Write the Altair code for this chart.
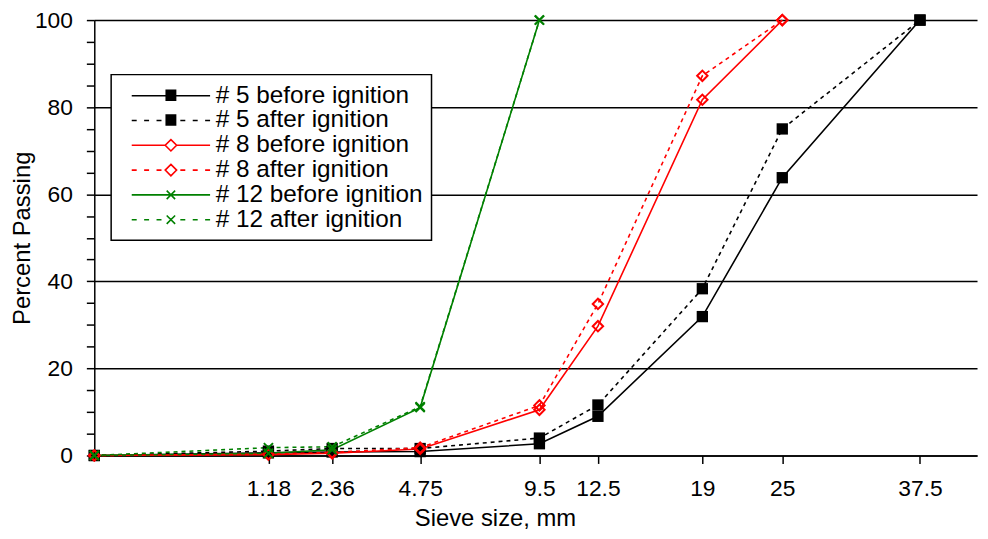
import altair as alt
import pandas as pd

# ---- data ----
series_names = ["# 5 before ignition", "# 5 after ignition",
                "# 8 before ignition", "# 8 after ignition",
                "# 12 before ignition", "# 12 after ignition"]

sizes_5 = [0, 1.18, 2.36, 4.75, 9.5, 12.5, 19, 25, 37.5]
p5_before = [0, 0.6, 0.8, 0.9, 2.7, 9.0, 31.9, 63.8, 100]
p5_after = [0, 1.0, 1.6, 1.6, 4.0, 11.6, 38.3, 75.0, 100]

sizes_8 = [0, 1.18, 2.36, 4.75, 9.5, 12.5, 19, 25]
p8_before = [0, 0.2, 0.5, 1.5, 10.5, 29.7, 81.7, 100]
p8_after = [0, 0.3, 0.7, 1.8, 11.5, 34.8, 87.2, 100]

sizes_12 = [0, 1.18, 2.36, 4.75, 9.5]
p12_before = [0, 0.5, 1.3, 11.0, 100]
p12_after = [0, 1.8, 2.0, 11.2, 100]

sieve_ticks = [1.18, 2.36, 4.75, 9.5, 12.5, 19, 25, 37.5]

rows = []
for name, group, state, xs, ys in [
    (series_names[0], "5", "before", sizes_5, p5_before),
    (series_names[1], "5", "after", sizes_5, p5_after),
    (series_names[2], "8", "before", sizes_8, p8_before),
    (series_names[3], "8", "after", sizes_8, p8_after),
    (series_names[4], "12", "before", sizes_12, p12_before),
    (series_names[5], "12", "after", sizes_12, p12_after),
]:
    for x, y in zip(xs, ys):
        rows.append({"size": x, "pct": y, "series": name, "group": group, "state": state})
df = pd.DataFrame(rows)

FONT = "Liberation Sans"
colors = ["black", "black", "#ff0000", "#ff0000", "#008000", "#008000"]


# legend symbols: line segment with marker in the middle (unit = 5px at size 100)
def seg(dashed, gap):
    if not dashed:
        return f"M-7.9,0H-{gap}M{gap},0H7.9"
    parts = []
    for a, b in [(-7.9, -6.9), (-5.4, -4.4), (-2.9, -1.9), (1.9, 2.9), (4.4, 5.4), (6.9, 7.9)]:
        parts.append(f"M{a},0H{b}")
    return "".join(parts)


def square():
    p = ""
    y = -1.1
    while y <= 1.11:
        p += f"M-1.1,{y:.2f}H1.1"
        y += 0.25
    return p


diamond = "M0,-1.15L1.15,0L0,1.15L-1.15,0Z"
xmark = "M-0.85,-0.85L0.85,0.85M-0.85,0.85L0.85,-0.85"
legend_shapes = [
    seg(False, 1.1) + square(),
    seg(True, 1.1) + square(),
    seg(False, 1.15) + diamond,
    seg(True, 1.15) + diamond,
    "M-7.9,0H7.9" + xmark,
    seg(True, 0) + xmark,
]

x_scale = alt.Scale(type="pow", exponent=0.45, domain=[0, 43.5], nice=False, zero=False)
y_scale = alt.Scale(domain=[0, 100], nice=False)

x_enc = alt.X("size:Q", scale=x_scale, axis=alt.Axis(
    values=sieve_ticks, labelExpr="'' + datum.value", grid=False,
    title="Sieve size, mm", titleX=404, titleY=64, titleBaseline="middle",
    tickSize=8, labelPadding=14))
y_enc = alt.Y("pct:Q", scale=y_scale, axis=alt.Axis(
    values=list(range(0, 101, 5)),
    labelExpr="datum.value % 20 == 0 ? datum.label : ''",
    grid=True, gridColor="black", gridWidth=1.5,
    gridOpacity={"condition": {"test": "datum.value % 20 === 0", "value": 1}, "value": 0},
    tickSize=8, labelPadding=14, title="Percent Passing", titlePadding=0))

stroke_scale = alt.Scale(domain=series_names, range=colors)
legend = alt.Legend(orient="none", legendX=17, legendY=55, title=None,
                    padding=9, fillColor="white", strokeColor="black",
                    symbolSize=100, symbolStrokeWidth=1.6,
                    symbolOffset=39, labelOffset=33, labelLimit=500,
                    labelFontSize=24.5, labelFont=FONT, labelColor="black",
                    rowPadding=0)

base = alt.Chart(df)

lines_before = base.transform_filter("datum.state == 'before'").mark_line(strokeWidth=1.6).encode(
    x=x_enc, y=y_enc,
    stroke=alt.Stroke("series:N", scale=stroke_scale, legend=legend),
)
lines_after = base.transform_filter("datum.state == 'after'").mark_line(
    strokeWidth=1.6, strokeDash=[4, 4]
).encode(
    x=x_enc, y=y_enc,
    stroke=alt.Stroke("series:N", scale=stroke_scale, legend=legend),
)

squares = base.transform_filter("datum.group == '5'").mark_point(
    shape="square", filled=True, color="black", size=130, opacity=1
).encode(x=x_enc, y=y_enc)

diamonds = base.transform_filter("datum.group == '8'").mark_point(
    shape="diamond", filled=False, color="#ff0000", size=110, strokeWidth=2, opacity=1
).encode(x=x_enc, y=y_enc)

crosses = base.transform_filter("datum.group == '12'").mark_point(
    shape="M-1,-1L1,1M-1,1L1,-1", filled=False, color="#008000", size=85, strokeWidth=2, opacity=1
).encode(x=x_enc, y=y_enc)

legend_layer = base.transform_filter("false").mark_point(
    filled=False, size=100, strokeWidth=1.6, opacity=1
).encode(
    x=x_enc, y=y_enc,
    stroke=alt.Stroke("series:N", scale=stroke_scale, legend=legend),
    shape=alt.Shape("series:N", scale=alt.Scale(domain=series_names, range=legend_shapes), legend=legend),
)

chart = alt.layer(lines_before, lines_after, squares, diamonds, crosses, legend_layer).properties(
    width=890, height=439,
    autosize=alt.AutoSizeParams(type="none"),
    padding={"left": 87, "top": 10, "right": 3, "bottom": 80},
).configure_view(stroke=None).configure_axis(
    domainColor="black", domainWidth=1.5, tickColor="black", tickWidth=1.5,
    labelFont=FONT, labelFontSize=23, labelColor="black",
    titleFont=FONT, titleFontSize=24, titleFontWeight="normal", titleColor="black",
).configure_legend(strokeWidth=1.5)

chart.save("out.html", embed_options={"renderer": "svg", "actions": False})
